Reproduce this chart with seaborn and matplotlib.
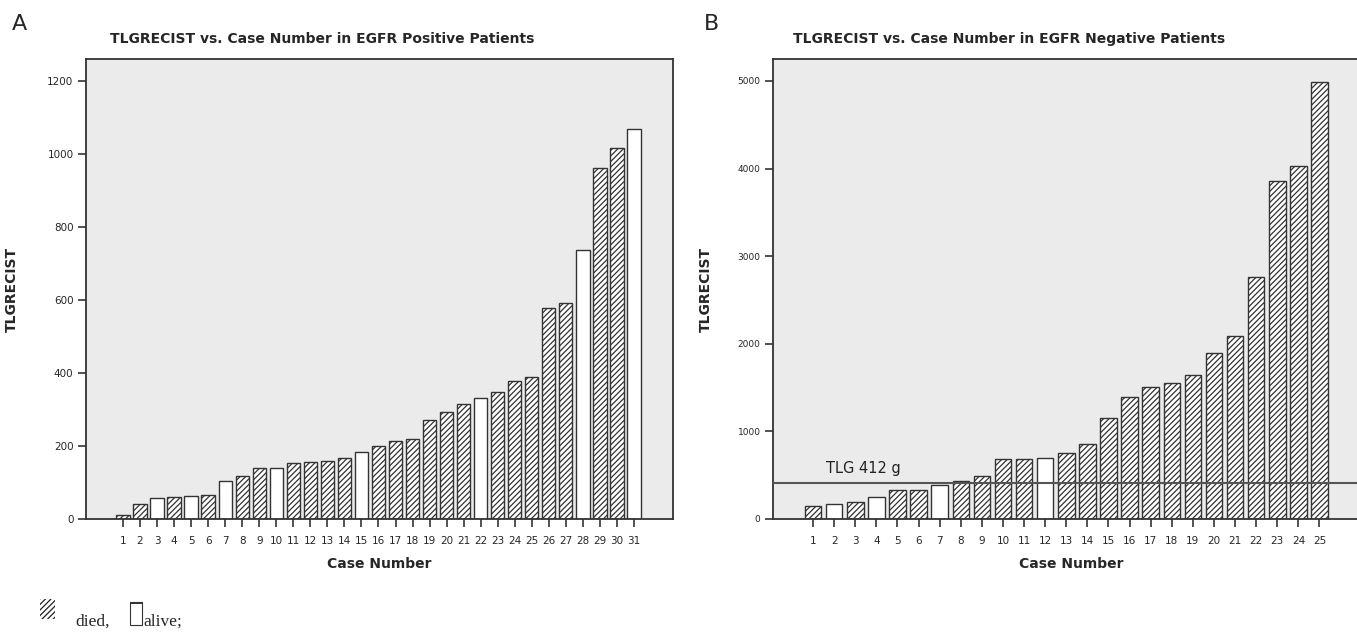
import matplotlib
matplotlib.use("Agg")
import matplotlib.pyplot as plt
import matplotlib.patches as mpatches
import seaborn as sns

# 데이터
pos_cases = list(range(1, 32))
pos_tlg = [10, 41, 58, 60, 63, 65, 104, 119, 139, 139, 154, 157, 159, 167, 183, 201,
           214, 218, 270, 293, 314, 331, 348, 379, 389, 579, 592, 738, 962, 1016, 1069]
pos_alive = [3, 5, 7, 10, 15, 22, 28, 31]

neg_cases = list(range(1, 26))
neg_tlg = [145, 168, 198, 248, 327, 335, 392, 430, 491, 682, 689, 701, 750, 861, 1154,
           1398, 1512, 1557, 1645, 1900, 2094, 2761, 3861, 4033, 4989]
neg_alive = [2, 4, 7, 12]

cutoff = 412
pos_yticks = [0, 200, 400, 600, 800, 1000, 1200]
neg_yticks = [0, 1000, 2000, 3000, 4000, 5000]

sns.set_style("ticks")
plt.rcParams['font.family'] = ['DejaVu Sans']
plt.rcParams['hatch.color'] = '#333333'
plt.rcParams['hatch.linewidth'] = 0.9

fig = plt.figure(figsize=(13.57, 6.36), dpi=100)
ax1 = fig.add_axes([86 / 1357, 1 - 519 / 636, 587 / 1357, 460 / 636])
ax2 = fig.add_axes([773 / 1357, 1 - 519 / 636, 597 / 1357, 460 / 636])


def draw_panel(ax, cases, values, alive, xlim, ylim, yticks, xt_size, yt_size):
    ax.set_facecolor('#ebebeb')
    sns.barplot(x=cases, y=values, ax=ax, color='white', edgecolor='#333333',
                linewidth=1.0, width=0.78, saturation=1, zorder=2)
    for patch, case in zip(ax.patches, cases):
        if case not in alive:
            patch.set_hatch('//////')
    ax.set_xlim(*xlim)
    ax.set_ylim(*ylim)
    ax.set_yticks(yticks)
    ax.tick_params(axis='both', direction='out', length=6, width=1.2, color='#333333')
    ax.tick_params(axis='x', labelsize=xt_size, pad=6)
    ax.tick_params(axis='y', labelsize=yt_size, pad=3)
    for side in ['left', 'bottom', 'top', 'right']:
        ax.spines[side].set_visible(True)
        ax.spines[side].set_color('#333333')
        ax.spines[side].set_linewidth(1.3)
    ax.set_xlabel('Case Number', fontsize=10, fontweight='bold', labelpad=8)
    ax.set_ylabel('TLGRECIST', fontsize=10, fontweight='bold')


draw_panel(ax1, pos_cases, pos_tlg, pos_alive, (-2.17, 32.29), (0, 1260),
           pos_yticks, 7.5, 7.5)
ax1.yaxis.set_label_coords(-0.115, 0.5)

draw_panel(ax2, neg_cases, neg_tlg, neg_alive, (-1.9, -1.9 + 597 / 21.1), (0, 5251),
           neg_yticks, 7.5, 6.5)
ax2.yaxis.set_label_coords(-0.10, 0.5)
ax2.axhline(cutoff, color='#555555', linewidth=1.5, zorder=4)
ax2.text(0.62, 571, 'TLG 412 g', fontsize=10.5, ha='left', va='center', color='#222222')

# 제목 및 패널 문자
fig.text(110 / 1357, 1 - 39 / 636, 'TLGRECIST vs. Case Number in EGFR Positive Patients',
         fontsize=10, fontweight='bold', ha='left', va='center')
fig.text(793 / 1357, 1 - 39 / 636, 'TLGRECIST vs. Case Number in EGFR Negative Patients',
         fontsize=10, fontweight='bold', ha='left', va='center')
fig.text(12 / 1357, 1 - 24 / 636, 'A', fontsize=16, ha='left', va='center')
fig.text(704 / 1357, 1 - 24 / 636, 'B', fontsize=16, ha='left', va='center')

# 범례 (died / alive)
fig.patches.append(mpatches.Rectangle((40 / 1357, 1 - 619 / 636), 15 / 1357, 20 / 636,
                                      transform=fig.transFigure, facecolor='white',
                                      edgecolor='#222222', linewidth=0, hatch='//////'))
fig.text(75 / 1357, 1 - 626 / 636, 'died,', family='Liberation Serif', fontsize=12.5,
         ha='left', va='baseline')
fig.patches.append(mpatches.Rectangle((130 / 1357, 1 - 625 / 636), 12 / 1357, 23 / 636,
                                      transform=fig.transFigure, facecolor='white',
                                      edgecolor='#333333', linewidth=0.8))
fig.patches.append(mpatches.Rectangle((130 / 1357, 1 - 604 / 636), 12 / 1357, 2 / 636,
                                      transform=fig.transFigure, facecolor='#333333',
                                      edgecolor='none'))
fig.text(143 / 1357, 1 - 626 / 636, 'alive;', family='Liberation Serif', fontsize=12.5,
         ha='left', va='baseline')

fig.savefig('out.png', dpi=100)
